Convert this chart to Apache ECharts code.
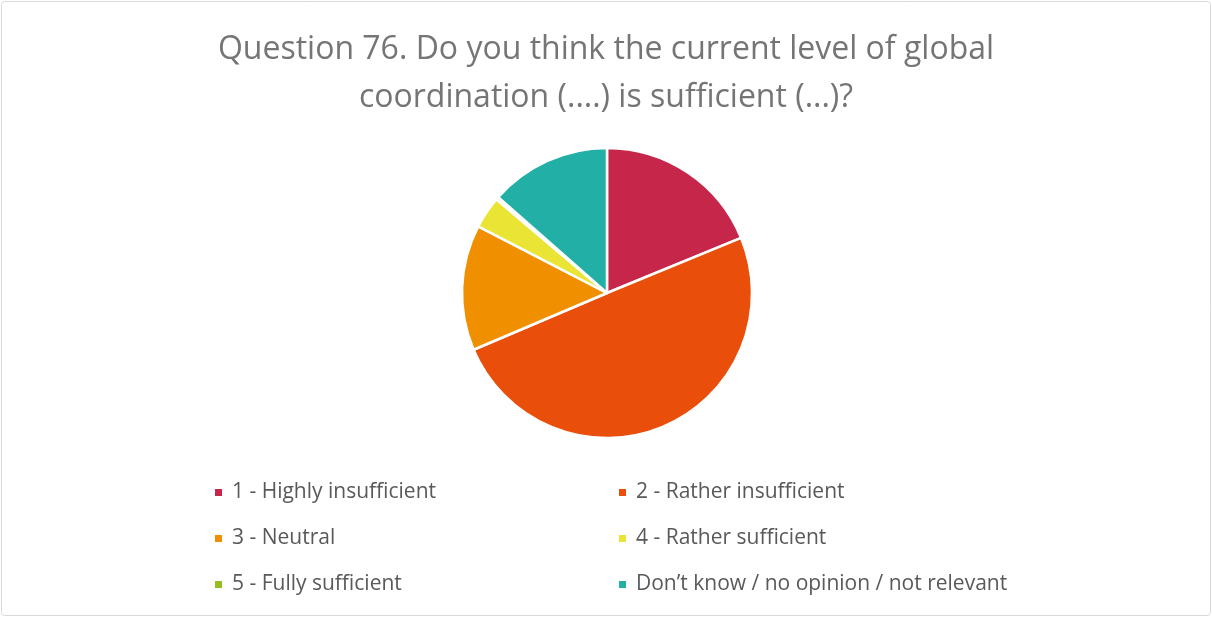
<!DOCTYPE html>
<html><head><meta charset="utf-8">
<script src="https://cdn.jsdelivr.net/npm/echarts@6/dist/echarts.min.js"></script>
<style>html,body{margin:0;padding:0;background:#fff}#c{width:1212px;height:617px}</style>
</head><body><div id="c"></div>
<script>
const categories = ['1 - Highly insufficient','2 - Rather insufficient','3 - Neutral','4 - Rather sufficient','5 - Fully sufficient','Don\u2019t know / no opinion / not relevant'];
const values = [18.8, 49.8, 14.0, 3.6, 0.3, 13.5];
const colors = ['#C6264A','#E94E0A','#F09000','#EAE535','#96BE1E','#22B0A6'];
const titleLines = ['Question 76. Do you think the current level of global','coordination (....) is sufficient (...)?'];

const chart = echarts.init(document.getElementById('c'));
const legendText = {color:'#595959', fontSize:21, fontFamily:'Open Sans, Liberation Sans, sans-serif', padding:[0,0,0,4]};
chart.setOption({
  animation:false,
  color: colors,
  title:{
    text: titleLines.join('\n'), left:'center', top:21,
    textStyle:{color:'#757575', fontSize:32, fontWeight:'normal', fontFamily:'Open Sans, Liberation Sans, sans-serif', lineHeight:48}
  },
  graphic:[{type:'rect', shape:{x:1.5,y:1.5,width:1209,height:614,r:3}, style:{fill:'none', stroke:'#D9D9D9', lineWidth:1}, silent:true}],
  legend:[
    {orient:'vertical', left:208, top:477, itemWidth:9, itemHeight:9, itemGap:25, icon:'rect',
     data:[categories[0],categories[2],categories[4]], textStyle:legendText},
    {orient:'vertical', left:612, top:477, itemWidth:9, itemHeight:9, itemGap:25, icon:'rect',
     data:[categories[1],categories[3],categories[5]], textStyle:legendText}
  ],
  series:[{
    type:'pie', center:[607,293], radius:145, startAngle:90, clockwise:true,
    label:{show:false}, labelLine:{show:false},
    itemStyle:{borderColor:'#fff', borderWidth:2.5},
    data: categories.map((n,i)=>({name:n, value:values[i]}))
  }]
});
</script></body></html>
